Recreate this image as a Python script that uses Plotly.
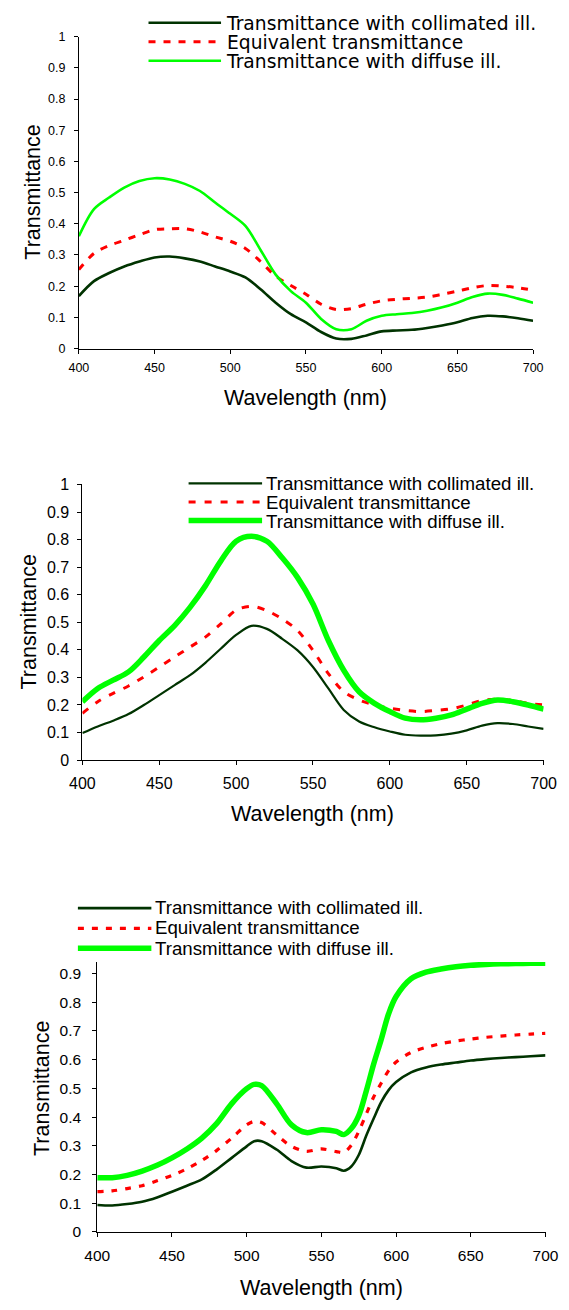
import plotly.graph_objects as go

W, H = 569, 1310

# ---------------- data ----------------
series_names = ["Transmittance with collimated ill.",
                "Equivalent transmittance",
                "Transmittance with diffuse ill."]

wl = [400, 410, 420, 430, 440, 450, 460, 470, 480, 490, 500, 510, 520, 530,
      540, 550, 560, 570, 580, 590, 600, 610, 620, 630, 640, 650, 660, 670,
      680, 690, 700]

# Panel 1
p1_collimated = [0.168, 0.216, 0.242, 0.263, 0.279, 0.292, 0.295, 0.289, 0.279,
                 0.263, 0.247, 0.228, 0.190, 0.147, 0.110, 0.084, 0.053, 0.032,
                 0.031, 0.042, 0.055, 0.058, 0.060, 0.066, 0.074, 0.084, 0.098,
                 0.105, 0.103, 0.097, 0.089]
p1_equivalent = [0.253, 0.305, 0.330, 0.347, 0.365, 0.381, 0.384, 0.384, 0.374,
                 0.358, 0.344, 0.321, 0.279, 0.232, 0.202, 0.174, 0.142, 0.125,
                 0.128, 0.142, 0.153, 0.158, 0.161, 0.165, 0.174, 0.184, 0.195,
                 0.202, 0.200, 0.195, 0.187]
p1_diffuse = [0.360, 0.447, 0.484, 0.516, 0.537, 0.546, 0.542, 0.528, 0.505,
              0.468, 0.432, 0.393, 0.316, 0.237, 0.184, 0.147, 0.095, 0.062,
              0.062, 0.089, 0.105, 0.110, 0.114, 0.121, 0.132, 0.147, 0.165,
              0.176, 0.172, 0.160, 0.147]

# Panel 2
p2_collimated = [0.098, 0.122, 0.143, 0.167, 0.200, 0.236, 0.272, 0.308, 0.353,
                 0.404, 0.454, 0.487, 0.476, 0.440, 0.398, 0.338, 0.260, 0.182,
                 0.140, 0.119, 0.104, 0.092, 0.089, 0.090, 0.096, 0.108, 0.125,
                 0.134, 0.131, 0.122, 0.113]
p2_equivalent = [0.170, 0.212, 0.242, 0.269, 0.302, 0.338, 0.374, 0.410, 0.446,
                 0.494, 0.544, 0.558, 0.542, 0.512, 0.470, 0.398, 0.314, 0.248,
                 0.218, 0.200, 0.188, 0.180, 0.176, 0.180, 0.186, 0.200, 0.216,
                 0.221, 0.216, 0.206, 0.200]
p2_diffuse = [0.212, 0.260, 0.290, 0.320, 0.374, 0.434, 0.488, 0.554, 0.632,
              0.722, 0.794, 0.812, 0.794, 0.734, 0.662, 0.566, 0.434, 0.326,
              0.248, 0.206, 0.176, 0.152, 0.146, 0.152, 0.164, 0.185, 0.206,
              0.218, 0.212, 0.200, 0.185]

# Panel 3
wl3 = [400, 410, 420, 430, 440, 450, 460, 470, 480, 490, 500, 505, 510, 520,
       530, 540, 550, 560, 565, 570, 575, 580, 585, 590, 595, 600, 610, 620,
       630, 640, 650, 660, 670, 680, 690, 700]
p3_collimated = [0.094, 0.092, 0.097, 0.105, 0.120, 0.140, 0.161, 0.183, 0.218,
                 0.258, 0.298, 0.316, 0.316, 0.287, 0.247, 0.224, 0.228, 0.222,
                 0.213, 0.228, 0.268, 0.335, 0.395, 0.452, 0.494, 0.522, 0.556,
                 0.573, 0.583, 0.590, 0.597, 0.602, 0.606, 0.609, 0.612, 0.615]
p3_equivalent = [0.140, 0.143, 0.151, 0.161, 0.178, 0.197, 0.220, 0.249, 0.284,
                 0.327, 0.373, 0.385, 0.381, 0.338, 0.298, 0.281, 0.289, 0.280,
                 0.277, 0.302, 0.350, 0.410, 0.470, 0.518, 0.562, 0.592, 0.625,
                 0.643, 0.656, 0.665, 0.672, 0.678, 0.682, 0.686, 0.689, 0.692]
p3_diffuse = [0.189, 0.189, 0.197, 0.212, 0.232, 0.258, 0.289, 0.327, 0.378,
              0.447, 0.499, 0.514, 0.510, 0.447, 0.373, 0.346, 0.356, 0.350,
              0.339, 0.360, 0.405, 0.490, 0.585, 0.670, 0.760, 0.820, 0.882,
              0.905, 0.916, 0.924, 0.929, 0.932, 0.934, 0.935, 0.936, 0.936]

x_ticks = [400, 450, 500, 550, 600, 650, 700]
x_title = "Wavelength (nm)"
y_title = "Transmittance"

# ---------------- styling ----------------
colors = ["#003300", "#ff0000", "#00ff00"]
FONT = "Arial, Liberation Sans, sans-serif"
WIDE_FONT = "DejaVu Sans, Verdana, sans-serif"


def px(x):
    return x / W


def py(y):
    return 1 - y / H


panels = [
    dict(x=wl, ys=[p1_collimated, p1_equivalent, p1_diffuse],
         xl=69, xr=545, yb=345, yt=29, yrange=[0, 1], ytop=1.0,
         widths=[2.6, 3, 2.6], dash="7px,8px", tickfont=12.5,
         ystd=6, xstd=3,
         key=(142, 218), rows=[15, 34.2, 53.4],
         textx=221, text_rows=(16.4, 54.1), lfont=18.7, lfamily=WIDE_FONT,
         xtitle_y=395, ytitle_x=20),
    dict(x=wl, ys=[p2_collimated, p2_equivalent, p2_diffuse],
         xl=72.7, xr=556, yb=762, yt=482.7, yrange=[0, 1], ytop=1.0,
         widths=[2.2, 3, 5.5], dash="7px,9px", tickfont=16,
         ystd=5, xstd=5,
         key=(184, 261), rows=[481.7, 500.5, 519.3],
         textx=263.5, text_rows=(481.7, 519.3), lfont=18.7, lfamily=FONT,
         xtitle_y=817, ytitle_x=17),
    dict(x=wl3, ys=[p3_collimated, p3_equivalent, p3_diffuse],
         xl=88.3, xr=558, yb=1240, yt=1240 - 0.94 * 290.8, yrange=[0, 0.94],
         ytop=0.9, widths=[2.6, 3.2, 5.5], dash="6px,8px", tickfont=15.5,
         ystd=8, xstd=5,
         key=(68, 145), rows=[912, 932.4, 952.7],
         textx=147, text_rows=(912, 952.7), lfont=18.7, lfamily=FONT,
         xtitle_y=1297, ytitle_x=31),
]

fig = go.Figure()
shapes = []
annotations = []
layout_axes = {}

for i, p in enumerate(panels, start=1):
    xa = "x" if i == 1 else f"x{i}"
    ya = "y" if i == 1 else f"y{i}"
    for j in range(3):
        fig.add_trace(go.Scatter(
            x=p["x"], y=p["ys"][j], mode="lines", name=series_names[j],
            xaxis=xa, yaxis=ya, showlegend=False,
            line=dict(color=colors[j], width=p["widths"][j],
                      dash=p["dash"] if j == 1 else "solid",
                      shape="spline", smoothing=0.9),
        ))
    xkey = "xaxis" if i == 1 else f"xaxis{i}"
    ykey = "yaxis" if i == 1 else f"yaxis{i}"
    yticks = [round(k * 0.1, 1) for k in range(int(round(p["ytop"] * 10)) + 1)]
    layout_axes[xkey] = dict(
        domain=[px(p["xl"]), px(p["xr"])], anchor=ya, range=[400, 700],
        tickvals=x_ticks, ticktext=[str(v) for v in x_ticks],
        showline=True, linecolor="black", linewidth=1, ticks="outside",
        ticklen=4, tickcolor="black", showgrid=False, zeroline=False,
        tickfont=dict(family=FONT, size=p["tickfont"], color="black"),
        ticklabelstandoff=p["xstd"], fixedrange=True,
    )
    layout_axes[ykey] = dict(
        domain=[py(p["yb"]), py(p["yt"])], anchor=xa, range=p["yrange"],
        tickvals=yticks, ticktext=[("%g" % v) for v in yticks],
        showline=True, linecolor="black", linewidth=1, ticks="outside",
        ticklen=4, tickcolor="black", showgrid=False, zeroline=False,
        tickfont=dict(family=FONT, size=p["tickfont"], color="black"),
        ticklabelstandoff=p["ystd"], fixedrange=True,
    )
    # axis titles
    annotations.append(dict(
        text=x_title, xref="paper", yref="paper", showarrow=False,
        x=px((p["xl"] + p["xr"]) / 2), y=py(p["xtitle_y"]),
        xanchor="center", yanchor="middle",
        font=dict(family=FONT, size=21.5, color="black")))
    ymid = (p["yb"] + (p["yb"] - 290.8 if i == 3 else p["yt"])) / 2
    annotations.append(dict(
        text=y_title, xref="paper", yref="paper", showarrow=False,
        x=px(p["ytitle_x"]), y=py(ymid),
        xanchor="center", yanchor="middle", textangle=-90,
        font=dict(family=FONT, size=21.5, color="black")))
    # legend keys
    for j in range(3):
        shapes.append(dict(
            type="line", xref="paper", yref="paper",
            x0=px(p["key"][0]), x1=px(p["key"][1]),
            y0=py(p["rows"][j]), y1=py(p["rows"][j]),
            line=dict(color=colors[j], width=p["widths"][j],
                      dash=p["dash"] if j == 1 else "solid")))
    # legend labels: one block, tight line spacing like the original
    t0, t2 = p["text_rows"]
    spacing = (t2 - t0) / 2
    block = "<br>".join(
        f"<span style='font-size:{p['lfont']}px'>{n}</span>" for n in series_names)
    annotations.append(dict(
        text=block, xref="paper", yref="paper", showarrow=False,
        x=px(p["textx"]), y=py((t0 + t2) / 2), xanchor="left",
        yanchor="middle", align="left",
        font=dict(family=p["lfamily"], size=spacing / 1.3, color="black")))

fig.update_layout(
    width=W, height=H, margin=dict(l=0, r=0, t=0, b=0),
    paper_bgcolor="white", plot_bgcolor="white",
    showlegend=False, shapes=shapes, annotations=annotations,
    font=dict(family=FONT, color="black"),
    **layout_axes,
)

fig.write_html("out.html", config={"displayModeBar": False})
